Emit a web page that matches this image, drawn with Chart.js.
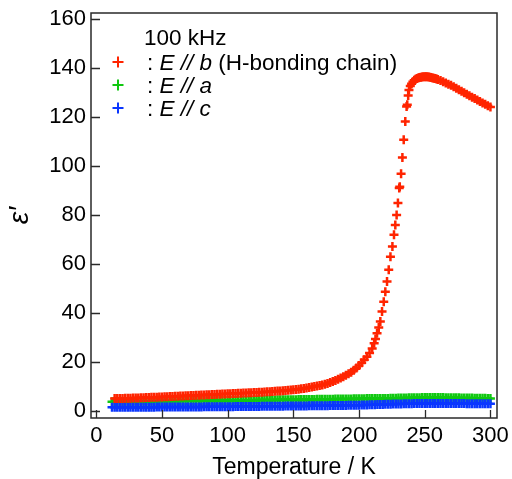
<!DOCTYPE html>
<html>
<head>
<meta charset="utf-8">
<script src="https://cdn.jsdelivr.net/npm/chart.js@4.4.1/dist/chart.umd.min.js"></script>
<style>
  html, body { margin: 0; padding: 0; background: #fff; }
  #grafico { display: block; }
</style>
</head>
<body>
<canvas id="grafico" width="512" height="479"></canvas>
<script>
// Datos (constante dielectrica a 100 kHz)
const xTicks = [0, 50, 100, 150, 200, 250, 300];
const yTicks = [0, 20, 40, 60, 80, 100, 120, 140, 160];

// E // b (cadena de puentes de hidrogeno)
const tempB = [
  14, 16, 18, 20, 22, 24, 26, 28, 30, 32,
  34, 36, 38, 40, 42, 44, 46, 48, 50, 52,
  54, 56, 58, 60, 62, 64, 66, 68, 70, 72,
  74, 76, 78, 80, 82, 84, 86, 88, 90, 92,
  94, 96, 98, 100, 102, 104, 106, 108, 110, 112,
  114, 116, 118, 120, 122, 124, 126, 128, 130, 132,
  134, 136, 138, 140, 142, 144, 146, 148, 150, 152,
  154, 156, 158, 160, 162, 164, 166, 168, 170, 172,
  174, 176, 178, 180, 182, 184, 186, 188, 190, 192,
  194, 196, 198, 200, 202, 204, 206, 208, 210,
  211.5, 212.5, 213.7, 215, 216.2, 217.5, 218.8, 220, 221.3, 222.6,
  223.9, 225.4, 226.6, 227.6, 228.6, 229.6, 230.6, 231, 232, 233,
  234, 235.2, 236.2, 236.7, 237.4, 238, 239, 240, 241, 242, 243, 244, 245,
  246, 247, 248, 249, 250, 251, 252, 253, 254, 255, 256, 257, 258, 259, 260,
  262, 264, 266, 268, 270, 272, 274, 276, 278, 280,
  282, 284, 286, 288, 290, 292, 294, 296, 298, 300
];
const epsB = [
  5.2, 5.2, 5.3, 5.3, 5.4, 5.4, 5.4, 5.5, 5.5, 5.5,
  5.6, 5.6, 5.7, 5.7, 5.8, 5.8, 5.8, 5.9, 5.9, 6.0,
  6.0, 6.1, 6.1, 6.2, 6.2, 6.3, 6.3, 6.4, 6.4, 6.5,
  6.5, 6.6, 6.6, 6.7, 6.7, 6.8, 6.8, 6.9, 6.9, 7.0,
  7.0, 7.1, 7.1, 7.2, 7.2, 7.3, 7.3, 7.4, 7.4, 7.5,
  7.5, 7.6, 7.6, 7.7, 7.7, 7.8, 7.8, 7.9, 8.0, 8.0,
  8.1, 8.2, 8.3, 8.3, 8.4, 8.5, 8.6, 8.7, 8.8, 8.9,
  9.0, 9.2, 9.3, 9.5, 9.7, 9.9, 10.1, 10.3, 10.5, 10.8,
  11.1, 11.4, 11.8, 12.2, 12.6, 13.1, 13.6, 14.1, 14.7, 15.3,
  16.0, 16.8, 17.7, 18.7, 19.8, 21.0, 22.3, 23.8, 25.6,
  27.8, 29.5, 31.8, 34.2, 36.6, 40.7, 44.7, 48.8, 52.9, 57.7,
  63.0, 67.2, 72.0, 76.0, 80.1, 84.9, 91.1, 91.6, 96.9, 103.5,
  110.7, 118.2, 124.3, 125.0, 128.8, 131.0, 132.6, 133.6, 134.4, 135.0, 135.4, 135.7, 135.9,
  136.1, 136.2, 136.3, 136.4, 136.4, 136.4, 136.4, 136.3, 136.2, 136.1, 135.9, 135.8, 135.7, 135.5, 135.3,
  134.9, 134.4, 133.9, 133.4, 132.9, 132.3, 131.7, 131.1, 130.5, 129.9,
  129.3, 128.7, 128.1, 127.5, 126.9, 126.3, 125.7, 125.2, 124.6, 124.1
];

// E // a y E // c comparten temperaturas
const tempAC = [
  12, 14, 16, 18, 20, 22, 24, 26, 28, 30,
  32, 34, 36, 38, 40, 42, 44, 46, 48, 50,
  52, 54, 56, 58, 60, 62, 64, 66, 68, 70,
  72, 74, 76, 78, 80, 82, 84, 86, 88, 90,
  92, 94, 96, 98, 100, 102, 104, 106, 108, 110,
  112, 114, 116, 118, 120, 122, 124, 126, 128, 130,
  132, 134, 136, 138, 140, 142, 144, 146, 148, 150,
  152, 154, 156, 158, 160, 162, 164, 166, 168, 170,
  172, 174, 176, 178, 180, 182, 184, 186, 188, 190,
  192, 194, 196, 198, 200, 202, 204, 206, 208, 210,
  212, 214, 216, 218, 220, 222, 224, 226, 228, 230,
  232, 234, 236, 238, 240, 242, 244, 246, 248, 250,
  252, 254, 256, 258, 260, 262, 264, 266, 268, 270,
  272, 274, 276, 278, 280, 282, 284, 286, 288, 290,
  292, 294, 296, 298, 300
];
const epsA = [
  3.9, 3.9, 3.9, 4.0, 4.0, 4.0, 4.0, 4.0, 4.0, 4.1,
  4.1, 4.1, 4.1, 4.1, 4.1, 4.1, 4.1, 4.2, 4.2, 4.2,
  4.2, 4.2, 4.2, 4.2, 4.2, 4.2, 4.2, 4.3, 4.3, 4.3,
  4.3, 4.3, 4.3, 4.3, 4.3, 4.3, 4.3, 4.4, 4.4, 4.4,
  4.4, 4.4, 4.4, 4.4, 4.4, 4.4, 4.5, 4.5, 4.5, 4.5,
  4.5, 4.5, 4.5, 4.5, 4.5, 4.6, 4.6, 4.6, 4.6, 4.6,
  4.6, 4.6, 4.6, 4.7, 4.7, 4.7, 4.7, 4.7, 4.7, 4.7,
  4.7, 4.8, 4.8, 4.8, 4.8, 4.8, 4.8, 4.8, 4.9, 4.9,
  4.9, 4.9, 4.9, 4.9, 4.9, 5.0, 5.0, 5.0, 5.0, 5.0,
  5.0, 5.0, 5.1, 5.1, 5.1, 5.1, 5.1, 5.2, 5.2, 5.2,
  5.2, 5.2, 5.3, 5.3, 5.3, 5.3, 5.4, 5.4, 5.4, 5.5,
  5.5, 5.5, 5.5, 5.6, 5.6, 5.6, 5.6, 5.6, 5.7, 5.7,
  5.7, 5.7, 5.7, 5.7, 5.7, 5.7, 5.7, 5.6, 5.6, 5.6,
  5.6, 5.6, 5.6, 5.5, 5.5, 5.5, 5.5, 5.5, 5.4, 5.4,
  5.4, 5.4, 5.4, 5.3, 5.3
];
const epsC = [
  1.7, 1.7, 1.7, 1.7, 1.7, 1.7, 1.7, 1.7, 1.7, 1.7,
  1.7, 1.7, 1.7, 1.7, 1.7, 1.7, 1.7, 1.8, 1.8, 1.8,
  1.8, 1.8, 1.8, 1.8, 1.8, 1.8, 1.8, 1.8, 1.8, 1.8,
  1.8, 1.8, 1.8, 1.8, 1.8, 1.9, 1.9, 1.9, 1.9, 1.9,
  1.9, 1.9, 1.9, 1.9, 1.9, 1.9, 1.9, 2.0, 2.0, 2.0,
  2.0, 2.0, 2.0, 2.0, 2.0, 2.0, 2.0, 2.1, 2.1, 2.1,
  2.1, 2.1, 2.1, 2.1, 2.1, 2.1, 2.2, 2.2, 2.2, 2.2,
  2.2, 2.2, 2.2, 2.2, 2.2, 2.3, 2.3, 2.3, 2.3, 2.3,
  2.3, 2.3, 2.3, 2.4, 2.4, 2.4, 2.4, 2.4, 2.4, 2.4,
  2.5, 2.5, 2.5, 2.5, 2.5, 2.6, 2.6, 2.6, 2.7, 2.7,
  2.7, 2.8, 2.8, 2.8, 2.9, 2.9, 2.9, 3.0, 3.0, 3.0,
  3.0, 3.1, 3.1, 3.1, 3.1, 3.2, 3.2, 3.2, 3.2, 3.2,
  3.2, 3.2, 3.2, 3.2, 3.2, 3.2, 3.2, 3.2, 3.2, 3.2,
  3.2, 3.2, 3.2, 3.2, 3.2, 3.1, 3.1, 3.1, 3.1, 3.1,
  3.1, 3.1, 3.1, 3.1, 3.1
];

const legendTitle = '100 kHz';
const legendItalic = ['E // b', 'E // a', 'E // c'];
const legendRest = [' (H-bonding chain)', '', ''];
const colores = ['#ff2400', '#10c810', '#0a36ff'];

const fuente = '"Liberation Sans", Arial, Helvetica, sans-serif';

function puntos(ts, es) {
    return ts.map((t, i) => ({ x: t, y: es[i] }));
}

// Marco completo y marcas de graduacion hacia dentro
const marco = {
    id: 'marco',
    afterDraw(chart) {
        const ctx = chart.ctx;
        const a = chart.chartArea;
        const sx = chart.scales.x;
        const sy = chart.scales.y;
        ctx.save();
        ctx.strokeStyle = '#2a2a2a';
        ctx.lineWidth = 1.5;
        ctx.strokeRect(a.left, a.top, a.right - a.left, a.bottom - a.top);
        ctx.beginPath();
        xTicks.forEach(v => {
            const px = Math.round(sx.getPixelForValue(v)) + 0.5;
            ctx.moveTo(px, a.bottom);
            ctx.lineTo(px, a.bottom - 8);
        });
        yTicks.forEach(v => {
            const py = Math.round(sy.getPixelForValue(v)) + 0.5;
            ctx.moveTo(a.left, py);
            ctx.lineTo(a.left + 9, py);
        });
        ctx.lineWidth = 1.3;
        ctx.stroke();
        ctx.restore();
    }
};

// Leyenda con texto en cursiva mezclado
const leyenda = {
    id: 'leyenda',
    afterDraw(chart) {
        const ctx = chart.ctx;
        const a = chart.chartArea;
        ctx.save();
        ctx.fillStyle = '#000';
        ctx.textBaseline = 'alphabetic';
        ctx.font = '22.5px ' + fuente;
        ctx.fillText(legendTitle, a.left + 53, a.top + 32);
        legendItalic.forEach((txt, i) => {
            const y = a.top + 57 + i * 23;
            const mx = a.left + 27;
            const my = y - 8;
            ctx.strokeStyle = colores[i];
            ctx.lineWidth = 2;
            ctx.beginPath();
            ctx.moveTo(mx - 5.5, my);
            ctx.lineTo(mx + 5.5, my);
            ctx.moveTo(mx, my - 5.5);
            ctx.lineTo(mx, my + 5.5);
            ctx.stroke();
            let x = a.left + 56;
            ctx.font = '22.5px ' + fuente;
            ctx.fillText(': ', x, y);
            x += ctx.measureText(': ').width;
            ctx.font = 'italic 22.5px ' + fuente;
            ctx.fillText(txt, x, y);
            x += ctx.measureText(txt).width;
            ctx.font = '22.5px ' + fuente;
            ctx.fillText(legendRest[i], x, y);
        });
        ctx.restore();
    }
};

function serie(label, ts, es, color, orden) {
    return {
        label: label,
        data: puntos(ts, es),
        showLine: false,
        pointStyle: 'cross',
        pointRadius: 4.5,
        pointHoverRadius: 4.5,
        borderWidth: 2.5,
        borderColor: color,
        backgroundColor: color,
        order: orden
    };
}

const ctx = document.getElementById('grafico').getContext('2d');

new Chart(ctx, {
    type: 'scatter',
    data: {
        datasets: [
            serie('E // b', tempB, epsB, colores[0], 0),
            serie('E // a', tempAC, epsA, colores[1], 2),
            serie('E // c', tempAC, epsC, colores[2], 1)
        ]
    },
    options: {
        responsive: false,
        animation: false,
        layout: {
            padding: { top: 13, right: 15, left: 0, bottom: 0 }
        },
        scales: {
            x: {
                type: 'linear',
                min: -4,
                max: 305,
                afterBuildTicks: scale => {
                    scale.ticks = xTicks.map(v => ({ value: v }));
                },
                afterFit: scale => {
                    scale.height = 61;
                    scale.paddingLeft = 0;
                    scale.paddingRight = 0;
                },
                grid: { display: false, drawTicks: false },
                border: { display: false },
                ticks: {
                    color: '#000',
                    padding: 5,
                    maxRotation: 0,
                    font: { size: 22, family: fuente }
                },
                title: {
                    display: true,
                    text: 'Temperature / K',
                    color: '#000',
                    padding: 0,
                    font: { size: 23, family: fuente, lineHeight: 1 }
                }
            },
            y: {
                type: 'linear',
                min: -2.7,
                max: 162.4,
                afterBuildTicks: scale => {
                    scale.ticks = yTicks.map(v => ({ value: v }));
                },
                afterFit: scale => {
                    scale.width = 91;
                    scale.paddingTop = 0;
                    scale.paddingBottom = 0;
                },
                grid: { display: false, drawTicks: false },
                border: { display: false },
                ticks: {
                    color: '#000',
                    padding: 5,
                    font: { size: 22, family: fuente }
                },
                title: {
                    display: true,
                    text: 'ε′',
                    color: '#000',
                    padding: { top: 3, bottom: 0 },
                    font: { size: 28, family: fuente, style: 'italic' }
                }
            }
        },
        plugins: {
            legend: { display: false },
            tooltip: { enabled: false }
        }
    },
    plugins: [marco, leyenda]
});
</script>
</body>
</html>
